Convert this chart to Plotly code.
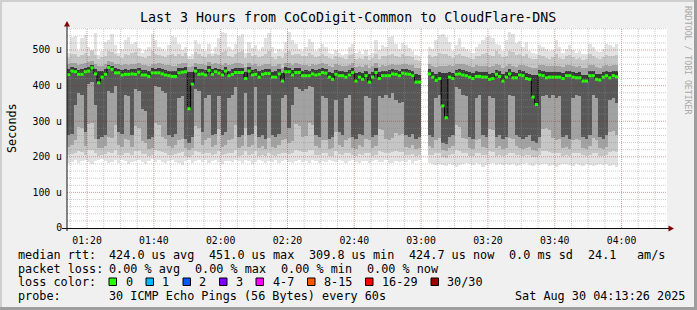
import plotly.graph_objects as go
from datetime import datetime, timedelta

# ---------------- data (round-trip times in microseconds, one column per minute) ----------------
start_time = datetime(2025, 8, 30, 1, 14)
range_end = datetime(2025, 8, 30, 4, 13, 36)

rtt_median = [
    431, 441, 439, 432, 432, 439, 441, 450, 433, 408,
    424, 432, 451, 446, 436, 436, 430, 432, 432, 433,
    432, 438, 430, 430, 426, 436, 436, 436, 433, 430,
    428, 426, 426, 436, 438, 439, 335, 404, 441, 432,
    433, 430, 443, 432, 439, 435, 430, 441, 428, 432,
    437, 437, 437, 420, 441, 430, 432, 424, 432, 434,
    434, 424, 424, 433, 413, 439, 439, 430, 437, 437,
    428, 428, 428, 433, 430, 432, 437, 435, 424, 418,
    432, 428, 428, 424, 430, 437, 413, 424, 418, 428,
    410, 424, 437, 420, 428, 428, 428, 433, 432, 428,
    435, 433, 432, 428, 410, 410, None, None, 433, 424,
    415, 420, 343, 309.8, 424, 420, 432, 433, 430, 428,
    424, 420, 426, 426, 424, 424, 418, 420, 432, 426,
    413, 424, 433, 422, 422, 430, 428, 420, 418, 368,
    347, 430, 428, 422, 424, 424, 424, 424, 420, 428,
    428, 424, 422, 422, 413, 413, 428, 428, 418, 416,
    424, 428, 422, 428, 424.7]

rtt_min = [
    183, 186, 190, 184, 188, 192, 185, 180, 187, 190,
    193, 188, 182, 186, 190, 184, 191, 187, 179, 185,
    188, 192, 186, 181, 189, 193, 185, 190, 186, 182,
    188, 191, 185, 183, 176, 187, 190, 184, 188, 192,
    186, 190, 183, 188, 191, 185, 180, 187, 189, 186,
    192, 187, 184, 190, 188, 181, 186, 191, 187, 183,
    189, 186, 191, 184, 188, 190, 185, 182, 187, 191,
    186, 188, 184, 190, 187, 183, 189, 186, 192, 188,
    185, 190, 187, 183, 188, 191, 186, 184, 189, 187,
    183, 188, 191, 185, 186, 190, 184, 182, 187, 185,
    188, 186, 190, 184, 187, 191, None, None, 182, 180,
    178, 181, 176, 174, 180, 178, 172, 176, 179, 182,
    180, 177, 183, 179, 172, 176, 180, 182, 177, 179,
    178, 181, 176, 180, 174, 177, 179, 182, 178, 175,
    180, 177, 181, 179, 174, 176, 172, 178, 181, 179,
    177, 175, 180, 177, 174, 179, 176, 173, 177, 181,
    176, 180, 174, 177, 172]

rtt_p10 = [
    205, 208, 212, 216, 214, 206, 218, 220, 210, 203,
    204, 207, 214, 212, 218, 206, 205, 212, 211, 206,
    217, 215, 209, 207, 202, 204, 219, 217, 213, 212,
    206, 204, 207, 211, 213, 202, 200, 204, 216, 214,
    208, 211, 212, 205, 207, 215, 206, 208, 210, 212,
    218, 203, 206, 216, 205, 208, 217, 203, 206, 201,
    212, 206, 203, 208, 210, 212, 209, 211, 219, 216,
    213, 214, 220, 218, 206, 204, 211, 210, 201, 203,
    215, 208, 205, 210, 212, 204, 202, 207, 206, 211,
    210, 203, 206, 215, 214, 212, 210, 213, 215, 214,
    214, 206, 204, 208, 202, 204, None, None, 206, 204,
    211, 212, 200, 198, 204, 207, 218, 216, 212, 211,
    203, 201, 210, 212, 206, 204, 215, 214, 203, 206,
    202, 204, 212, 211, 206, 204, 202, 204, 206, 200,
    199, 204, 215, 216, 214, 212, 210, 211, 203, 206,
    201, 210, 212, 211, 204, 202, 206, 212, 210, 203,
    202, 206, 214, 215, 213]

rtt_p25 = [
    228, 232, 248, 285, 280, 230, 292, 295, 250, 225,
    226, 230, 255, 252, 290, 232, 228, 250, 248, 229,
    288, 282, 245, 240, 222, 226, 295, 290, 255, 250,
    230, 226, 232, 248, 250, 224, 220, 226, 286, 280,
    234, 248, 252, 228, 232, 278, 229, 233, 246, 250,
    290, 225, 230, 282, 228, 233, 288, 226, 230, 222,
    252, 229, 225, 233, 246, 250, 238, 245, 292, 286,
    255, 258, 296, 290, 230, 226, 248, 246, 222, 225,
    270, 234, 228, 247, 252, 226, 222, 232, 229, 249,
    246, 225, 230, 278, 275, 251, 247, 254, 268, 262,
    265, 229, 226, 233, 222, 225, None, None, 230, 226,
    248, 252, 218, 215, 226, 230, 290, 284, 252, 249,
    226, 222, 247, 251, 229, 225, 277, 274, 225, 230,
    222, 226, 252, 249, 230, 226, 222, 225, 229, 218,
    216, 226, 279, 281, 274, 253, 247, 249, 225, 229,
    221, 246, 251, 248, 226, 222, 230, 252, 247, 225,
    222, 229, 270, 273, 262]

rtt_p40 = [
    260, 265, 345, 380, 375, 270, 405, 410, 345, 250,
    255, 260, 385, 380, 400, 270, 265, 375, 370, 260,
    390, 385, 335, 330, 250, 255, 400, 395, 385, 380,
    260, 255, 265, 365, 370, 250, 240, 255, 390, 385,
    270, 365, 375, 260, 265, 370, 260, 270, 365, 375,
    395, 255, 260, 380, 260, 265, 395, 255, 260, 250,
    375, 260, 255, 265, 365, 375, 280, 345, 395, 390,
    385, 390, 400, 395, 260, 255, 370, 365, 250, 255,
    360, 270, 260, 365, 375, 255, 250, 265, 260, 370,
    365, 255, 260, 370, 365, 375, 365, 380, 360, 350,
    355, 260, 255, 265, 250, 255, None, None, 260, 255,
    365, 375, 240, 235, 255, 260, 395, 390, 375, 370,
    255, 250, 365, 375, 260, 255, 370, 365, 255, 260,
    250, 255, 375, 370, 260, 255, 250, 255, 260, 245,
    240, 255, 370, 375, 365, 375, 365, 370, 255, 260,
    250, 365, 375, 370, 255, 250, 260, 375, 365, 255,
    250, 260, 360, 365, 350]

rtt_p60 = [
    446, 452, 450, 445, 447, 451, 453, 458, 447, 440,
    440, 446, 458, 455, 449, 448, 444, 446, 445, 447,
    446, 450, 444, 445, 441, 449, 448, 450, 446, 444,
    442, 441, 440, 449, 451, 452, 438, 438, 453, 446,
    447, 444, 455, 446, 451, 448, 444, 453, 442, 446,
    450, 451, 449, 437, 453, 444, 446, 440, 445, 447,
    448, 439, 440, 446, 436, 452, 451, 444, 450, 449,
    442, 443, 441, 447, 444, 446, 450, 448, 439, 436,
    445, 442, 441, 439, 444, 450, 435, 439, 436, 442,
    434, 439, 450, 437, 442, 441, 443, 446, 445, 442,
    448, 446, 445, 442, 432, 430, None, None, 446, 439,
    434, 437, 436, 436, 439, 436, 445, 446, 444, 442,
    438, 436, 440, 439, 438, 439, 434, 436, 445, 440,
    432, 438, 446, 437, 436, 443, 441, 436, 434, 430,
    430, 443, 441, 437, 438, 439, 438, 439, 435, 442,
    441, 438, 436, 437, 431, 430, 442, 441, 434, 432,
    438, 442, 437, 441, 440]

rtt_p75 = [
    460, 464, 463, 458, 461, 463, 466, 470, 460, 455,
    456, 460, 470, 467, 462, 461, 458, 460, 459, 461,
    460, 463, 458, 459, 456, 462, 461, 463, 460, 458,
    457, 456, 455, 462, 464, 465, 452, 454, 465, 460,
    461, 458, 467, 460, 463, 461, 458, 465, 457, 460,
    463, 464, 462, 452, 465, 458, 460, 455, 459, 461,
    462, 455, 456, 460, 451, 465, 464, 458, 463, 462,
    457, 458, 456, 461, 458, 460, 463, 462, 455, 452,
    460, 457, 456, 455, 459, 463, 452, 455, 452, 457,
    450, 455, 463, 453, 457, 456, 458, 460, 459, 457,
    462, 460, 459, 457, 450, 449, None, None, 462, 456,
    452, 454, 455, 456, 457, 454, 461, 462, 460, 458,
    455, 453, 457, 456, 455, 456, 452, 454, 461, 457,
    450, 455, 462, 454, 453, 459, 458, 454, 452, 451,
    451, 459, 458, 454, 455, 456, 455, 456, 452, 458,
    458, 455, 453, 454, 450, 449, 458, 458, 452, 450,
    455, 458, 454, 457, 457]

rtt_p90 = [
    478, 488, 490, 480, 486, 492, 484, 496, 486, 476,
    480, 484, 498, 494, 488, 482, 478, 490, 486, 492,
    494, 484, 480, 478, 482, 496, 490, 486, 484, 480,
    486, 490, 482, 488, 484, 492, 476, 474, 494, 488,
    484, 480, 490, 482, 488, 486, 494, 496, 482, 480,
    490, 494, 496, 478, 492, 484, 486, 480, 482, 490,
    496, 480, 476, 484, 478, 492, 498, 486, 488, 490,
    484, 482, 492, 486, 480, 482, 488, 484, 478, 474,
    482, 480, 478, 476, 486, 490, 474, 478, 476, 482,
    472, 478, 490, 476, 484, 482, 486, 488, 484, 480,
    488, 484, 482, 480, 472, 470, None, None, 486, 480,
    484, 492, 490, 488, 484, 478, 486, 488, 484, 480,
    478, 476, 484, 482, 488, 492, 486, 484, 496, 490,
    480, 484, 498, 494, 486, 488, 484, 490, 478, 476,
    474, 486, 482, 478, 476, 480, 488, 478, 474, 482,
    486, 480, 476, 478, 472, 474, 488, 484, 478, 476,
    480, 486, 482, 484, 486]

rtt_max = [
    493, 536, 540, 498, 533, 543, 508, 500, 548, 486,
    498, 523, 528, 546, 513, 493, 503, 528, 536, 518,
    524, 506, 493, 500, 510, 544, 528, 508, 503, 496,
    513, 540, 536, 518, 500, 508, 483, 488, 528, 518,
    503, 498, 516, 493, 508, 533, 550, 548, 508, 500,
    518, 540, 544, 493, 523, 506, 513, 498, 508, 533,
    548, 508, 493, 503, 496, 523, 550, 528, 516, 503,
    498, 508, 530, 523, 498, 506, 518, 510, 493, 488,
    500, 493, 486, 490, 508, 516, 493, 498, 488, 500,
    486, 493, 528, 500, 514, 508, 536, 540, 518, 503,
    520, 513, 506, 498, 486, 483, None, None, 508, 503,
    528, 543, 546, 538, 523, 498, 513, 533, 508, 503,
    498, 493, 508, 518, 528, 538, 540, 533, 518, 513,
    498, 528, 550, 546, 520, 526, 508, 523, 498, 493,
    488, 513, 508, 503, 496, 500, 528, 508, 493, 503,
    513, 500, 493, 498, 488, 490, 518, 508, 498, 494,
    503, 518, 513, 508, 516]

y_tick_vals = [0, 100, 200, 300, 400, 500]
y_tick_text = ["0", "100 u", "200 u", "300 u", "400 u", "500 u"]
x_tick_text = ["01:20", "01:40", "02:00", "02:20", "02:40", "03:00", "03:20", "03:40", "04:00"]

title_text = "Last 3 Hours from CoCoDigit-Common to CloudFlare-DNS"
stats_rtt = ["424.0 us avg", "451.0 us max", "309.8 us min", "424.7 us now", "0.0 ms sd", "24.1", "am/s"]
stats_loss = ["0.00 % avg", "0.00 % max", "0.00 % min", "0.00 % now"]
loss_labels = ["0", "1", "2", "3", "4-7", "8-15", "16-29", "30/30"]
loss_colors = ["#26ff00", "#00b8ff", "#0059ff", "#7e00ff", "#ff00ff", "#ff5500", "#ff0000", "#a10000"]
probe_text = "30 ICMP Echo Pings (56 Bytes) every 60s"
date_text = "Sat Aug 30 04:13:26 2025"

# ---------------- geometry helpers (pixel -> paper) ----------------
W, H = 697, 310
L, R, T, B = 67, 667, 28, 228
def PX(x):
    return (x - L) / (R - L)
def PY(y):
    return (B - y) / (B - T)

MONO = "DejaVu Sans Mono"
n = len(rtt_median)
t_start = [start_time + timedelta(minutes=i) for i in range(n)]

fig = go.Figure()

def band(lo, hi, color):
    base = [a if (a is not None and b is not None) else None for a, b in zip(lo, hi)]
    h = [(b - a) if (a is not None and b is not None) else None for a, b in zip(lo, hi)]
    fig.add_trace(go.Bar(x=t_start, y=h, base=base, width=60000, offset=0,
                         marker=dict(color=color, line=dict(width=0)),
                         hoverinfo="skip", showlegend=False))

band(rtt_min, rtt_max, "#e2e2e2")
band(rtt_p10, rtt_p90, "#c6c6c6")
band(rtt_p25, rtt_p75, "#a2a2a2")
band(rtt_p40, rtt_p60, "#585858")
band(rtt_median, rtt_p60, "#3a3a3a")

# thin dark step line through medians
fig.add_trace(go.Scatter(x=t_start + [t_start[-1] + timedelta(minutes=1)],
                         y=rtt_median + [rtt_median[-1]],
                         mode="lines", line=dict(color="#000000", width=1, shape="hv"),
                         connectgaps=False, hoverinfo="skip", showlegend=False))

# green median marks (loss 0)
gx, gy = [], []
for t, m in zip(t_start, rtt_median):
    if m is None:
        continue
    gx += [t, t + timedelta(minutes=1), None]
    gy += [m, m, None]
fig.add_trace(go.Scatter(x=gx, y=gy, mode="lines",
                         line=dict(color=loss_colors[0], width=3),
                         hoverinfo="skip", showlegend=False))

shapes = []
# grid (drawn above the smoke, like rrdtool)
minor_c = "rgba(140,140,140,0.45)"
major_c = "rgba(150,30,30,0.42)"
t = datetime(2025, 8, 30, 1, 15)
while t < range_end:
    major = (t.minute % 20 == 0)
    shapes.append(dict(type="line", xref="x", yref="paper", x0=t, x1=t, y0=0, y1=1,
                       line=dict(color=major_c if major else minor_c, width=1, dash="1px,1px"),
                       layer="above"))
    t += timedelta(minutes=5)
for v in range(20, 562, 20):
    major = (v % 100 == 0)
    shapes.append(dict(type="line", xref="paper", yref="y", x0=0, x1=1, y0=v, y1=v,
                       line=dict(color=major_c if major else minor_c, width=1, dash="1px,1px"),
                       layer="above"))

# axes lines
shapes.append(dict(type="line", xref="paper", yref="paper", x0=PX(62), x1=PX(669), y0=PY(228.5), y1=PY(228.5),
                   line=dict(color="#101010", width=1), layer="above"))
shapes.append(dict(type="line", xref="paper", yref="paper", x0=PX(67), x1=PX(67), y0=PY(231), y1=PY(25),
                   line=dict(color="#101010", width=1), layer="above"))
# arrows
def tri(pts):
    return "M " + " L ".join(f"{PX(x)},{PY(y)}" for x, y in pts) + " Z"
shapes.append(dict(type="path", xref="paper", yref="paper", path=tri([(64, 26.5), (70, 26.5), (67, 21)]),
                   fillcolor="#800000", line=dict(width=0), layer="above"))
shapes.append(dict(type="path", xref="paper", yref="paper", path=tri([(668.5, 225.5), (668.5, 231.5), (674, 228.5)]),
                   fillcolor="#800000", line=dict(width=0), layer="above"))

# frame (3D border)
shapes.append(dict(type="rect", xref="paper", yref="paper", x0=PX(0), x1=PX(W), y0=PY(0), y1=PY(2),
                   fillcolor="#cfcfcf", line=dict(width=0), layer="above"))
shapes.append(dict(type="rect", xref="paper", yref="paper", x0=PX(0), x1=PX(2), y0=PY(0), y1=PY(H),
                   fillcolor="#cfcfcf", line=dict(width=0), layer="above"))
shapes.append(dict(type="rect", xref="paper", yref="paper", x0=PX(0), x1=PX(W), y0=PY(307), y1=PY(H),
                   fillcolor="#9e9e9e", line=dict(width=0), layer="above"))
shapes.append(dict(type="rect", xref="paper", yref="paper", x0=PX(694), x1=PX(W), y0=PY(0), y1=PY(H),
                   fillcolor="#9e9e9e", line=dict(width=0), layer="above"))

# legend colour squares
sq_x = [109, 146, 183, 219.5, 256, 307.5, 365.5, 431]
lab_x = [123.5, 160, 196.5, 233.5, 270.5, 321.5, 380, 445]
for sx, c in zip(sq_x, loss_colors):
    shapes.append(dict(type="rect", xref="paper", yref="paper", x0=PX(sx), x1=PX(sx + 7.5),
                       y0=PY(278), y1=PY(285.5), fillcolor=c, line=dict(color="#000000", width=1),
                       layer="above"))

ann = []
def text(x, y, s, size=11.8, anchor="left", color="#000000", angle=0):
    ann.append(dict(xref="paper", yref="paper", x=PX(x), y=PY(y), text=s, showarrow=False,
                    xanchor=anchor, yanchor="middle", textangle=angle,
                    font=dict(family=MONO, size=size, color=color)))

text(348, 18, title_text, size=13.3, anchor="center")
text(12, 128, "Seconds", size=11.8, anchor="center", angle=-90)
text(688, 60, "RRDTOOL / TOBI OETIKER", size=8.2, anchor="center", color="#a8a8a8", angle=90)

row_y = [254.5, 268.5, 282, 296]
text(15.5, row_y[0], "median rtt:")
for x, s in zip([107, 206.8, 306.6, 406.6, 507.2, 586, 635], stats_rtt):
    text(x, row_y[0], s)
text(15.5, row_y[1], "packet loss:")
for x, s in zip([107, 193.2, 279.3, 365.4], stats_loss):
    text(x, row_y[1], s)
text(15.5, row_y[2], "loss color:")
for x, s in zip(lab_x, loss_labels):
    text(x, row_y[2], s)
text(15.5, row_y[3], "probe:")
text(107, row_y[3], probe_text)
text(513, row_y[3], date_text)

fig.update_layout(
    width=W, height=H,
    margin=dict(l=L, r=W - R, t=T, b=H - B, pad=0),
    paper_bgcolor="#f0f0f0", plot_bgcolor="#ffffff",
    barmode="overlay", bargap=0, bargroupgap=0,
    showlegend=False, hovermode=False,
    shapes=shapes, annotations=ann,
    font=dict(family=MONO, color="#000000"),
)
fig.update_xaxes(type="date", range=[start_time, range_end], showgrid=False, zeroline=False,
                 showline=False, tickvals=[datetime(2025, 8, 30, 1, 20) + timedelta(minutes=20 * k)
                                            for k in range(len(x_tick_text))],
                 ticktext=x_tick_text, ticks="outside", ticklen=3, tickcolor="rgba(0,0,0,0)",
                 tickfont=dict(family=MONO, size=9.8, color="#000000"))
fig.update_yaxes(range=[0, 562], showgrid=False, zeroline=False, showline=False,
                 tickvals=y_tick_vals, ticktext=y_tick_text, ticks="outside", ticklen=2,
                 tickcolor="rgba(0,0,0,0)", tickfont=dict(family=MONO, size=9.8, color="#000000"))

fig.write_html("out.html")
